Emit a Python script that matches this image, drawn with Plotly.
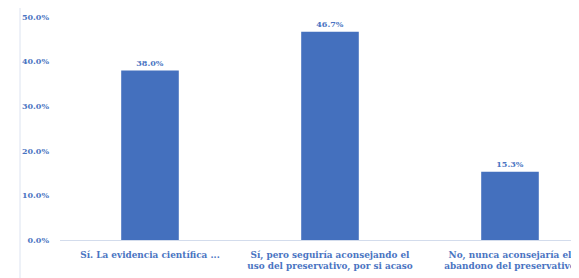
import plotly.graph_objects as go

categories = [
    "Sí. La evidencia científica ...",
    "Sí, pero seguiría aconsejando el<br>uso del preservativo, por si acaso",
    "No, nunca aconsejaría el<br>abandono del preservativo",
]
values = [38.0, 46.7, 15.3]
value_labels = ["38.0%", "46.7%", "15.3%"]
y_ticks = [0, 10, 20, 30, 40, 50]
y_tick_labels = ["0.0%", "10.0%", "20.0%", "30.0%", "40.0%", "50.0%"]

bar_color = "#4470BE"
text_color = "#4A74C2"
font_family = "DejaVu Serif"

fig = go.Figure(
    go.Bar(
        x=list(range(len(categories))),
        y=values,
        text=value_labels,
        textposition="outside",
        textfont=dict(family=font_family, size=8, color=text_color, weight="bold"),
        marker=dict(color=bar_color, line=dict(width=0)),
        cliponaxis=False,
        width=0.32,
    )
)

# page body has an 8px margin in the rendered page
W, H = 571, 270
ml, mt, mb = 52, 9, 38
plot_w = W - ml
plot_h = H - mt - mb
fig.update_layout(
    width=W,
    height=H,
    margin=dict(l=ml, r=0, t=mt, b=mb),
    paper_bgcolor="white",
    plot_bgcolor="white",
    showlegend=False,
    xaxis=dict(
        tickmode="array",
        tickvals=list(range(len(categories))),
        ticktext=categories,
        range=[-0.5, -0.5 + plot_w / 180.0],
        showgrid=False,
        showline=True,
        linecolor="#D3DCEC",
        linewidth=1,
        ticks="",
        ticklabelstandoff=6,
        tickfont=dict(family=font_family, size=8.9, color=text_color, weight="bold"),
        zeroline=False,
    ),
    yaxis=dict(
        range=[0, 50],
        tickmode="array",
        tickvals=y_ticks,
        ticktext=y_tick_labels,
        showgrid=False,
        showline=False,
        zeroline=False,
        ticks="",
        ticklabelstandoff=10,
        tickfont=dict(family=font_family, size=8, color=text_color, weight="bold"),
    ),
    shapes=[
        dict(
            type="line",
            xref="paper",
            yref="paper",
            x0=-40 / plot_w,
            x1=-40 / plot_w,
            y0=-mb / plot_h,
            y1=1 + (mt + 8) / plot_h,
            line=dict(color="#DCE3F0", width=1),
        )
    ],
)

fig.write_html("out.html")
